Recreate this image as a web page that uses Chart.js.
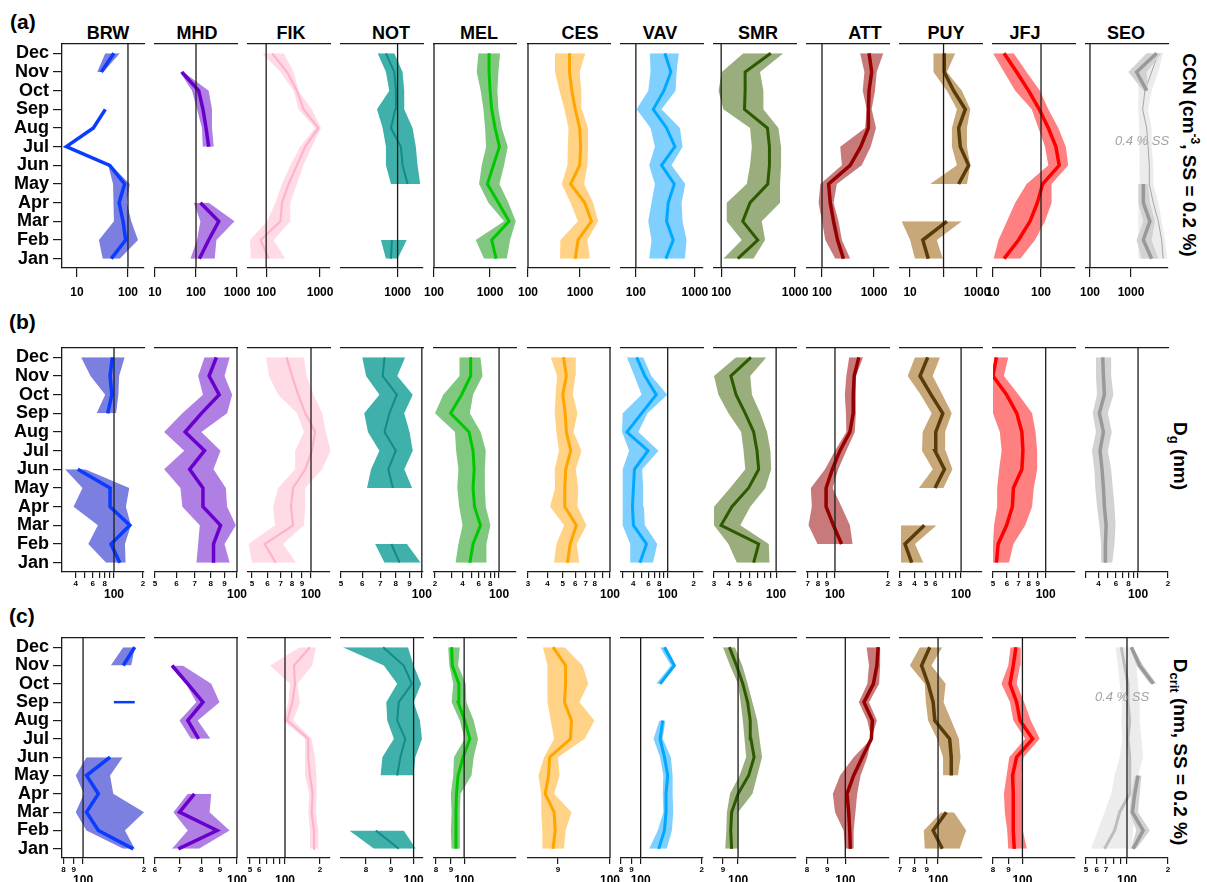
<!DOCTYPE html>
<html>
<head>
<meta charset="utf-8">
<script src="https://cdn.jsdelivr.net/npm/chart.js@4.4.0/dist/chart.umd.min.js"></script>
<style>
  body { margin: 0; width: 1207px; height: 882px; overflow: hidden; position: relative; background: #fff;
         font-family: 'Liberation Sans', Arial, sans-serif; color: #000; }
  .panel { position: absolute; }
  .tag { position: absolute; font-weight: bold; font-size: 21px; line-height: 1; }
  .stn { position: absolute; font-weight: bold; font-size: 18px; line-height: 18px; transform: translateX(-50%); white-space: nowrap; }
  .side { position: absolute; font-weight: bold; font-size: 19px; white-space: nowrap; transform: translate(-50%, -50%) rotate(90deg); }
  .side sup { font-size: 12px; }
  .side sub { font-size: 13px; }
  .ss { position: absolute; font-style: italic; font-size: 13px; color: #a3a3a3; transform: translate(-50%, -50%); white-space: nowrap; }
</style>
</head>
<body>
<div class="tag" style="left:10px;top:11px">(a)</div>
<div class="tag" style="left:9px;top:311px">(b)</div>
<div class="tag" style="left:9px;top:605px">(c)</div>
<div class="side" style="left:1190px;top:155px">CCN (cm<sup>-3</sup>, SS = 0.2 %)</div>
<div class="side" style="left:1179px;top:456px">D<sub>g</sub> (nm)</div>
<div class="side" style="left:1179px;top:752px">D<sub>crit</sub> (nm, SS = 0.2 %)</div>
<script>
Chart.defaults.font.family = "'Liberation Sans', Arial, sans-serif";
Chart.defaults.color = '#000';

const months = ['Jan', 'Feb', 'Mar', 'Apr', 'May', 'Jun', 'Jul', 'Aug', 'Sep', 'Oct', 'Nov', 'Dec'];
const stations = ['BRW', 'MHD', 'FIK', 'NOT', 'MEL', 'CES', 'VAV', 'SMR', 'ATT', 'PUY', 'JFJ', 'SEO'];
const lineColors = ['#0a3cff', '#6a00cc', '#ffb3c9', '#138c88', '#00c800', '#ffa500', '#00a8ff', '#2d5a00', '#960000', '#5a3c0a', '#ff0000', '#999999'];
const bandColors = ['#7b7fe0', '#b07fe3', '#ffdbe6', '#40b0ab', '#80c880', '#ffd285', '#80d0ff', '#99ae7c', '#c87a7a', '#c8a878', '#ff8080', '#d2d2d2'];
const lineWidths = [3.5, 3.5, 2.2, 2, 3, 3, 3, 3, 3.5, 3.5, 3.5, 3.5];
const stationX = [108, 197, 291, 391, 479, 580, 660, 758, 865, 946, 1025, 1126];

// ---- (a) CCN (cm-3, SS = 0.2 %), Jan..Dec ----
const ccnMed = {
  BRW: [47, 90, 80, 67, 86, 44, 6.2, 21, 36, null, 30, 53],
  MHD: [121, 204, 359, 128, null, null, 204, 176, 148, 116, 45, null],
  FIK: [112, 79, 184, 197, 261, 372, 530, 931, 493, 372, 244, 129],
  NOT: [787, 815, null, null, 1433, 1197, 1127, 787, 920, 942, 887, 657],
  MEL: [1280, 1070, 2184, 1409, 896, 1148, 1468, 1228, 1070, 1000, 959, 959],
  CES: [811, 914, 1663, 1233, 658, 985, 1030, 985, 811, 698, 629, 629],
  VAV: [322, 429, 331, 353, 447, 272, 458, 331, 197, 298, 392, 310],
  SMR: [168, 313, 196, 246, 427, 450, 450, 423, 207, 211, 211, 469],
  ATT: [259, 199, 167, 144, 134, 348, 556, 779, 779, 802, 902, 802],
  PUY: [35, 24, 126, null, 282, 562, 316, 282, 447, 200, 105, 105],
  JFJ: [17, 34, 59, 84, 108, 239, 204, 142, 92, 55, 31, 17],
  SEO: [3190, 2000, 2900, 2000, 2000, null, null, null, null, 2410, 1370, 4230]
};
const ccnLo = {
  BRW: [32, 27, 53, 53, 51, 41, null, null, null, null, 25, 36],
  MHD: [73, 106, 128, 88, null, null, 146, 140, 106, 80, 41, null],
  FIK: [52, 50, 104, 148, 197, 280, 428, 808, 398, 323, 184, 84],
  NOT: [657, 549, null, null, 787, 657, 657, 583, 476, 741, 657, 487],
  MEL: [781, 555, 1778, 933, 636, 710, 849, 814, 760, 681, 578, 619],
  CES: [414, 420, 914, 658, 446, 574, 584, 601, 503, 402, 331, 331],
  VAV: [168, 184, 162, 184, 210, 168, 210, 177, 103, 162, 177, 173],
  SMR: [107, 190, 119, 119, 222, 246, 260, 246, 107, 92, 102, 200],
  ATT: [180, 116, 100, 86, 93, 241, 224, 673, 724, 607, 653, 540],
  PUY: [14, 10, 5.6, null, 40, 251, 178, 178, 251, 126, 50, 50],
  JFJ: [10.3, 13, 19.5, 29, 50, 142, 121, 88, 64, 29, 17, 10],
  SEO: [1820, 1370, 2000, 1510, 1510, null, null, null, null, 2000, 861, 2410]
};
const ccnHi = {
  BRW: [69, 157, 116, 95, 108, 47, null, null, null, null, 33, 69],
  MHD: [286, 315, 868, 204, null, null, 271, 246, 246, 204, 49, null],
  FIK: [227, 138, 280, 280, 372, 493, 703, 1040, 703, 398, 323, 212],
  NOT: [1000, 1390, null, null, 2260, 2054, 1933, 1715, 1271, 1271, 1197, 887],
  MEL: [1985, 2276, 2871, 2125, 1468, 1778, 2067, 1616, 1409, 1352, 1409, 1509],
  CES: [1540, 1390, 2240, 1790, 1200, 1390, 1430, 1430, 1090, 1060, 985, 1270],
  VAV: [677, 722, 618, 594, 686, 402, 618, 557, 272, 470, 489, 535],
  SMR: [273, 393, 354, 627, 627, 647, 647, 595, 373, 373, 336, 695],
  ATT: [348, 241, 208, 167, 193, 581, 863, 1092, 902, 1045, 1125, 1508],
  PUY: [95, 63, 355, null, 501, 631, 501, 501, 631, 355, 126, 224],
  JFJ: [37, 75, 121, 166, 166, 368, 329, 229, 142, 95, 50, 27],
  SEO: [4640, 3190, 3850, 2900, 2620, null, null, null, null, 2620, 2410, 5600]
};
// SEO at 0.4 % SS
const ccnSeo04Med = [6100, 5600, 4640, 3500, 2800, 2800, 2620, 2410, 1930, 2190, 3190, 4640];
const ccnSeo04Lo = [1510, 1510, 1510, 1510, 1650, 1650, 1590, 1590, 1510, 1510, 1510, 2410];
const ccnSeo04Hi = [7700, 6700, 5600, 4640, 3500, 3500, 3190, 3190, 2620, 3190, 4640, 6100];
const ccnRange = {
  BRW: [5.1, 206], MHD: [10, 1000], FIK: [46, 1530], NOT: [130, 2500], MEL: [100, 2900], CES: [100, 3780],
  VAV: [56, 1370], SMR: [80, 1030], ATT: [51.5, 1940], PUY: [5, 1410], JFJ: [10, 510], SEO: [80, 8000]
};
const ccnRef = { BRW: 100, MHD: 100, FIK: 100, NOT: 1000, MEL: 100, CES: 100, VAV: 100, SMR: 100, ATT: 100, PUY: 100, JFJ: 100, SEO: 100 };
const ccnTicks = {
  BRW: [10, 100], MHD: [10, 100, 1000], FIK: [100, 1000], NOT: [1000], MEL: [100, 1000], CES: [100, 1000],
  VAV: [100, 1000], SMR: [100, 1000], ATT: [100, 1000], PUY: [10, 100, 1000], JFJ: [10, 100], SEO: [100, 1000]
};
const ccnLabels = {
  BRW: ['10', '100'], MHD: ['10', '100', '1000'], FIK: ['100', '1000'], NOT: ['1000'], MEL: ['100', '1000'], CES: ['100', '1000'],
  VAV: ['100', '1000'], SMR: ['100', '1000'], ATT: ['100', '1000'], PUY: ['10', '', '1000'], JFJ: ['10', '100'], SEO: ['100', '1000']
};

// ---- (b) Dg (nm), Jan..Dec ----
const dgMed = {
  BRW: [115, 93, 146, 91, 91, 42, null, null, 86, 95, 91, 96],
  MHD: [82, 82, 87, 75, 75, 67, 76, 64.5, 74, 86, 79, 84],
  FIK: [66, 58, 81, 79, 81, 93.5, 101, 105, 93.5, 86, 80, 75],
  NOT: [82.6, 77, null, null, 78, 75, 80, 72.6, 75.7, 80.7, 71.5, 72.6],
  MEL: [48, 52, 62.7, 54, 52, 53.5, 52, 47, 29.6, 39, 49, 49],
  CES: [53.5, 55.7, 61, 51.5, 51.5, 52.2, 56.2, 52.7, 51.8, 50, 52.7, 50.5],
  VAV: [47.9, 57, 40.3, 39.3, 40.3, 41.4, 59.4, 33.9, 50, 73.8, 54.6, 44],
  SMR: [64.7, 71.3, 34.4, 42.4, 58.7, 71.3, 69, 64.7, 55, 46, 41.6, 61.4],
  ATT: [null, 109, 98, 89, 89, 96.6, 106.7, 121.6, 127, 127, 128.6, 136.7],
  PUY: [37.8, 33.1, 48.5, null, 59.8, 72, 59.8, 60.7, 69.7, 55.3, 44.5, 51.8],
  JFJ: [52.3, 53.5, 59.8, 64.5, 65.4, 73.1, 74.1, 73.1, 68.4, 59.8, 50, 52.3],
  SEO: [47, 47, 47.8, 45.9, 44.9, 43.5, 41.5, 44.9, 40.9, 45.9, 44.9, 44.2]
};
const dgLo = {
  BRW: [83, 54, 68, 38, 47, 31, null, null, 66, 81, 57, 45.5],
  MHD: [71, 72, 73, 63, 62, 54, 64, 54, 63, 75, 72, 76],
  FIK: [50, 48, 65.5, 64, 68, 83, 83, 92, 85, 68, 61, 59],
  NOT: [72.6, 67, null, null, 62.5, 64.7, 69.5, 63, 61, 69.5, 62, 60],
  MEL: [33.5, 36, 40, 36.7, 35, 36, 34, 33, 20, 24.6, 37, 37],
  CES: [44, 45.5, 51, 41.5, 44.6, 44.4, 47.3, 45.5, 44.4, 45, 46, 41.9],
  VAV: [37, 37, 30.3, 30.3, 30.3, 30.3, 36, 29.8, 30.3, 50, 41.4, 33.9],
  SMR: [46.7, 39.7, 30, 30, 41, 55, 53.2, 50.8, 39.7, 32.7, 30, 46],
  ATT: [null, 79.5, 70.7, 73.8, 72.9, 87.8, 100, 116, 115.4, 113.8, 116, 120.5],
  PUY: [30.6, 30.6, 30.6, null, 43.6, 57.2, 46.3, 46.9, 56, 45.1, 34.9, 40.3],
  JFJ: [50, 50, 50.7, 52.8, 52.8, 54.2, 56, 54.7, 50, 50, 50, 50.7],
  SEO: [42.5, 42.5, 40.9, 38.7, 37.2, 36.4, 34.4, 37.8, 35, 38.7, 37.8, 37.8]
};
const dgHi = {
  BRW: [132, 130, 150, 133, 144, 50, null, null, 105, 111, 113, 129],
  MHD: [94, 90, 99, 92, 91, 82, 87, 74, 92, 96, 90, 94],
  FIK: [84, 72, 92, 93.5, 93.5, 114, 126, 119, 114, 103, 95, 92],
  NOT: [99, 88, null, null, 92, 86, 92.5, 90, 86, 92.5, 81, 86.7],
  MEL: [72.8, 72.8, 80.5, 71.6, 70, 70, 71.6, 63, 48, 52, 66, 62.7],
  CES: [63.6, 61.4, 70.8, 62, 62.7, 60.5, 65.8, 58.5, 62, 58, 60, 60.5],
  VAV: [67.7, 75.8, 54.6, 53.2, 52.2, 50.9, 78.5, 45.9, 58.5, 99, 64.9, 52.2],
  SMR: [87.9, 86.7, 49.9, 60.6, 81.3, 90.8, 89.5, 83.9, 73.6, 62.6, 60.6, 82.8],
  ATT: [null, 125.9, 121.6, 109, 97, 104.4, 116, 129.7, 131.5, 131.5, 131.5, 144.6],
  PUY: [47.5, 40.3, 61.8, null, 70.6, 84.3, 73.9, 73, 83.2, 69.2, 57.2, 66],
  JFJ: [61.7, 65.4, 76.4, 83.6, 85.5, 89.4, 89.4, 87.5, 83.6, 70, 57.7, 61.1],
  SEO: [55, 58, 59.4, 58, 55.8, 53.7, 49.7, 54.5, 49.7, 56.6, 53.7, 53.7]
};
const dgRange = {
  BRW: [28.8, 205], MHD: [50, 100], FIK: [47.7, 125], NOT: [50, 101], MEL: [19.5, 153], CES: [30, 100],
  VAV: [29, 255], SMR: [30, 147], ATT: [69.3, 203], PUY: [30, 151], JFJ: [50, 147], SEO: [30, 200]
};
const dgRef = { BRW: 100, MHD: 100, FIK: 100, NOT: 100, MEL: 100, CES: 100, VAV: 100, SMR: 100, ATT: 100, PUY: 100, JFJ: 100, SEO: 100 };
const dgTicks = {
  BRW: [40, 50, 60, 70, 80, 90, 100, 200], MHD: [50, 60, 70, 80, 90, 100], FIK: [50, 60, 70, 80, 90, 100],
  NOT: [50, 60, 70, 80, 90, 100], MEL: [20, 30, 40, 50, 60, 70, 80, 90, 100], CES: [30, 40, 50, 60, 70, 80, 90, 100],
  VAV: [30, 40, 50, 60, 70, 80, 90, 100, 200], SMR: [30, 40, 50, 60, 70, 80, 90, 100], ATT: [70, 80, 90, 100, 200],
  PUY: [30, 40, 50, 60, 70, 80, 90, 100], JFJ: [50, 60, 70, 80, 90, 100], SEO: [30, 40, 50, 60, 70, 80, 90, 100, 200]
};
const dgLabels = {
  BRW: ['4', '', '6', '', '8', '', '100', '2'], MHD: ['5', '6', '7', '8', '9', '100'], FIK: ['5', '6', '7', '8', '9', '100'],
  NOT: ['5', '6', '7', '8', '9', '100'], MEL: ['2', '', '4', '', '6', '', '8', '', '100'], CES: ['3', '4', '5', '6', '7', '8', '', '100'],
  VAV: ['', '4', '', '6', '', '8', '', '100', '2'], SMR: ['3', '4', '5', '6', '', '', '', '100'], ATT: ['7', '8', '9', '100', '2'],
  PUY: ['3', '4', '5', '6', '', '', '', '100'], JFJ: ['5', '6', '7', '8', '9', '100'], SEO: ['', '4', '', '6', '', '8', '', '100', '2']
};

// ---- (c) Dcrit (nm, SS = 0.2 %), Jan..Dec ----
const dcMed = {
  BRW: [177, 119, 104, 119, 104, 136, null, null, 161, null, 158, 180],
  MHD: [69.4, 88.3, 69.9, 76.7, null, null, 78.7, 73.6, 80.9, 73.6, 66.7, null],
  FIK: [175, 177.6, 169.5, 173, 164, 158.6, 158.6, 104.7, 115.6, 122, 119.5, 164],
  NOT: [93.3, 83.8, null, null, 92.6, 94, 96.2, 92.6, 93.3, 99.2, 95.5, 86.7],
  MEL: [93.7, 93.7, 93.7, 94.1, 95.3, 99.2, 104.6, 100.5, 95.3, 95.9, 91, 90.5],
  CES: [89.1, 89.5, 89.3, 87.7, 88.3, 88.5, 92.3, 92.5, 91.2, 91.4, 91.4, 89.1],
  VAV: [122.8, 131, 133.4, 133.4, 136, 131, 124.7, 128.5, null, 124.7, 146.5, 131],
  SMR: [95.6, 95, 95.6, 100, 107.7, 111.9, 109.4, 108.9, 106.9, 103.4, 98.9, 94.1],
  ATT: [103, 102.6, 102, 101, 105, 110.4, 116.4, 117.1, 111.5, 117.8, 120.2, 121.1],
  PUY: [104.1, 95.5, 108, null, 113.2, 113.2, 111.5, 97, 95.5, 91.1, 85.7, 92.5],
  JFJ: [94, 93.3, 93.3, 93.3, 92.8, 95.7, 108, 98.2, 95.7, 91, 93.3, 95.2],
  SEO: [110.8, 131.4, 109.5, 114, 120.6, null, null, null, null, 156, 124, 107.7]
};
const dcLo = {
  BRW: [158, 104, 92, 101, 92, 104, null, null, 142, null, 137, 158],
  MHD: [66.7, 73.6, 67.3, 73.6, null, null, 75.1, 69.9, 77.6, 72.8, 66.3, null],
  FIK: [164, 164, 158.6, 161.8, 148.6, 148.6, 148.6, 96.8, 106.8, 110.4, 74.3, 134.6],
  NOT: [83.1, 74, null, null, 85.7, 86.4, 91.2, 88.4, 88, 92.6, 87, 71.8],
  MEL: [90.5, 90, 90.5, 90, 91.7, 92.2, 100.5, 96.6, 90.5, 91.7, 88.9, 88.1],
  CES: [87.2, 87.2, 87, 87, 86.5, 87.5, 89.3, 88.7, 88.1, 88.1, 88.1, 87.3],
  VAV: [110, 121.5, 129.4, 128.5, 129.4, 124.7, 115.7, 123.8, null, 119.2, 141, 124.7],
  SMR: [91.4, 92.1, 92.5, 94.5, 101.1, 105.8, 104.6, 103.4, 101.8, 100, 94.5, 90],
  ATT: [100, 99, 94.2, 93, 97, 105, 116.4, 113.7, 108.2, 113.7, 114.8, 113.2],
  PUY: [88.3, 87.5, 103.1, null, 104.8, 104.8, 99.1, 91.1, 89.2, 88.3, 76.8, 84.3],
  JFJ: [89.8, 89.1, 87.5, 86.9, 88.7, 90.5, 102.1, 93.3, 91, 85.3, 89.8, 91.4],
  SEO: [106.5, 117.2, 104.7, 107.7, 114, null, null, null, null, 147, 117.2, 104.7]
};
const dcHi = {
  BRW: [180, 161, 200, 141, 136, 157, null, null, 180, null, 173, 180],
  MHD: [78.9, 95.5, 84.3, 85.2, null, null, 84.7, 78.3, 89.7, 85.2, 71.3, null],
  FIK: [193.5, 193.5, 184.7, 187, 187, 181, 169.5, 118, 134.6, 127.6, 171.8, 184.7],
  NOT: [101, 95.5, null, null, 100, 100.8, 104, 103, 100, 103.6, 100, 97.4],
  MEL: [96.1, 96.6, 96.6, 97.2, 106, 107.9, 111.7, 107.9, 101.8, 101.3, 95.3, 96.6],
  CES: [91.1, 91.4, 92.5, 89.3, 90.3, 90, 95, 96.9, 94, 95.7, 94.6, 91.2],
  VAV: [134.4, 142.6, 144.9, 143.8, 143.8, 141, 128.5, 132.4, null, 127.6, 149.3, 134.4],
  SMR: [100, 100, 100, 110.6, 114.4, 118.3, 116.2, 114.4, 110.6, 106.9, 103, 97.8],
  ATT: [104.6, 105, 106.1, 107.2, 109.3, 113.7, 116.4, 120.2, 114.8, 121.8, 122.5, 122.5],
  PUY: [122.4, 130.2, 116.1, null, 120.5, 123.5, 121.6, 113.2, 105.4, 107.4, 94, 104.1],
  JFJ: [103.4, 100.3, 100.3, 100.3, 99.5, 100.8, 114, 106.6, 101.3, 95.7, 98.2, 98.7],
  SEO: [117.2, 147, 120.6, 124, 127.7, null, null, null, null, 165, 131.4, 110.8]
};
// SEO at 0.4 % SS
const dcSeo04Med = [68.4, 81.1, 88.3, 104.7, 104.7, 104.7, 101.7, 104.7, 101.7, 101.7, 96, 90.8];
const dcSeo04Lo = [54.4, 61, 68.4, 76.6, 81.1, 88.3, 92.3, 90.8, 92.3, 88.3, 85.7, 82.4];
const dcSeo04Hi = [107.7, 110.8, 114, 114, 120.6, 131.4, 127.7, 124, 124, 120.6, 117.2, 110.8];
const dcRange = {
  BRW: [78.7, 200], MHD: [60, 100], FIK: [48, 244], NOT: [71.2, 104.5], MEL: [78.7, 151], CES: [84.7, 100],
  VAV: [80, 203], SMR: [84.5, 150], ATT: [80, 129], PUY: [70, 151], JFJ: [80, 149], SEO: [50, 200]
};
const dcRef = dgRef;
const dcTicks = {
  BRW: [80, 90, 100, 200], MHD: [60, 70, 80, 90, 100], FIK: [50, 60, 70, 80, 90, 100, 200], NOT: [80, 90, 100],
  MEL: [80, 90, 100], CES: [90, 100], VAV: [80, 90, 100, 200], SMR: [90, 100], ATT: [80, 90, 100],
  PUY: [70, 80, 90, 100], JFJ: [80, 90, 100], SEO: [50, 60, 70, 80, 90, 100, 200]
};
const dcLabels = {
  BRW: ['8', '9', '100', '2'], MHD: ['6', '7', '8', '9', '100'], FIK: ['5', '6', '', '', '', '100', '2'], NOT: ['8', '9', '100'],
  MEL: ['8', '9', '100'], CES: ['9', '100'], VAV: ['8', '9', '100', '2'], SMR: ['9', '100'], ATT: ['8', '9', '100'],
  PUY: ['7', '8', '9', '100'], JFJ: ['8', '9', '100'], SEO: ['5', '6', '7', '', '', '100', '2']
};

const rows = [
  { top: 44, bottom: 268, axisH: 40, med: ccnMed, lo: ccnLo, hi: ccnHi, range: ccnRange, ref: ccnRef,
    ticks: ccnTicks, labels: ccnLabels, small: false,
    seo: { med: ccnSeo04Med, lo: ccnSeo04Lo, hi: ccnSeo04Hi, color: '#a6a6a6', width: 1 } },
  { top: 348, bottom: 572, axisH: 40, med: dgMed, lo: dgLo, hi: dgHi, range: dgRange, ref: dgRef,
    ticks: dgTicks, labels: dgLabels, small: true, seo: null },
  { top: 638, bottom: 858, axisH: 24, med: dcMed, lo: dcLo, hi: dcHi, range: dcRange, ref: dcRef,
    ticks: dcTicks, labels: dcLabels, small: true,
    seo: { med: dcSeo04Med, lo: dcSeo04Lo, hi: dcSeo04Hi, color: '#bdbdbd', width: 3 } }
];

function pts(arr) {
  return arr.map((v, i) => ({ x: v, y: i + 1 }));
}

// months whose band has no neighbour on either side get drawn as a short bar
function isolated(lo, hi) {
  const out = [];
  lo.forEach((v, i) => {
    if (v == null) return;
    const prev = i > 0 ? lo[i - 1] : null;
    const next = i < 11 ? lo[i + 1] : null;
    if (prev == null && next == null) out.push([{ x: v, y: i + 1 }, { x: hi[i], y: i + 1 }]);
  });
  return out;
}

// station names
stationX.forEach((x, k) => {
  const d = document.createElement('div');
  d.className = 'stn';
  d.style.left = x + 'px';
  d.style.top = '24px';
  d.textContent = stations[k];
  document.body.appendChild(d);
});

const axisCol = '#1a1a1a';

rows.forEach(row => {
  stations.forEach((s, k) => {
    const L = Math.round(62 + k * 93.1);
    const first = k === 0;
    const padL = first ? 0 : 22, padR = 22, padT = 4;
    const H = row.bottom - row.top;
    const w = (first ? L : padL) + 82 + padR;
    const h = padT + H + row.axisH;

    const box = document.createElement('div');
    box.className = 'panel';
    box.style.left = (first ? 0 : L - padL) + 'px';
    box.style.top = (row.top - padT) + 'px';
    const cv = document.createElement('canvas');
    cv.width = w; cv.height = h;
    cv.style.width = w + 'px'; cv.style.height = h + 'px';
    box.appendChild(cv);
    document.body.appendChild(box);

    const datasets = [
      { data: [{ x: row.ref[s], y: 0.5 }, { x: row.ref[s], y: 12.5 }], borderColor: axisCol, borderWidth: 1.3, clip: 4 },
      { data: pts(row.med[s]), borderColor: lineColors[k], borderWidth: lineWidths[k] }
    ];
    isolated(row.lo[s], row.hi[s]).forEach(seg => {
      datasets.push({ data: seg, borderColor: lineColors[k], borderWidth: 2.5 });
    });
    datasets.push({ data: pts(row.lo[s]), borderWidth: 0, borderColor: 'rgba(0,0,0,0)' });
    datasets.push({ data: pts(row.hi[s]), borderWidth: 0, borderColor: 'rgba(0,0,0,0)', fill: '-1', backgroundColor: bandColors[k] });
    if (s === 'SEO' && row.seo) {
      datasets.push({ data: pts(row.seo.med), borderColor: row.seo.color, borderWidth: row.seo.width });
      datasets.push({ data: pts(row.seo.lo), borderWidth: 0, borderColor: 'rgba(0,0,0,0)' });
      datasets.push({ data: pts(row.seo.hi), borderWidth: 0, borderColor: 'rgba(0,0,0,0)', fill: '-1', backgroundColor: '#ececec' });
    }
    datasets.forEach(d => { d.xAxisID = 'x'; d.yAxisID = 'y'; });

    const tickFont = row.small
      ? (c) => (c.tick && c.tick.value === 100) ? { size: 12, weight: 'bold', lineHeight: 0.875 } : { size: 8, weight: 'bold' }
      : { size: 12, weight: 'bold' };

    new Chart(cv, {
      type: 'line',
      data: { datasets },
      options: {
        indexAxis: 'y',
        responsive: false,
        animation: false,
        events: [],
        layout: { autoPadding: false, padding: { left: padL, right: padR, top: padT, bottom: 0 } },
        plugins: { legend: { display: false }, tooltip: { enabled: false } },
        datasets: { line: { pointRadius: 0, tension: 0, spanGaps: false } },
        scales: {
          x: {
            type: 'logarithmic',
            position: 'bottom',
            min: row.range[s][0],
            max: row.range[s][1],
            afterBuildTicks: sc => { sc.ticks = row.ticks[s].map(v => ({ value: v })); },
            afterFit: sc => { sc.height = row.axisH; sc.paddingLeft = 0; sc.paddingRight = 0; },
            grid: { drawOnChartArea: false, drawTicks: true, tickLength: row.small ? 6 : 9, color: axisCol, lineWidth: 1.2 },
            border: { display: true, color: axisCol, width: 1.3 },
            ticks: {
              autoSkip: false, maxRotation: 0, minRotation: 0,
              padding: row.small ? 1 : 8,
              color: '#000',
              font: tickFont,
              callback: (v, i) => {
                const t = row.labels[s][i];
                return (row.small && v === 100) ? ['', t] : t;
              }
            }
          },
          xt: {
            type: 'linear',
            position: 'top',
            min: 0, max: 1,
            afterFit: sc => { sc.height = 0; sc.paddingLeft = 0; sc.paddingRight = 0; },
            grid: { display: false, drawTicks: false },
            ticks: { display: false },
            border: { display: true, color: axisCol, width: 1.3 }
          },
          y: {
            type: 'linear',
            display: first,
            min: 0.5, max: 12.5,
            afterBuildTicks: sc => { sc.ticks = months.map((m, i) => ({ value: i + 1 })); },
            afterFit: sc => { sc.width = first ? L : 0; sc.paddingTop = 0; sc.paddingBottom = 0; },
            grid: { drawOnChartArea: false, drawTicks: true, tickLength: 9, color: axisCol, lineWidth: 1.2 },
            border: { display: true, color: axisCol, width: 1.3 },
            ticks: {
              autoSkip: false, padding: 4, color: '#000',
              font: { size: 18, weight: 'bold' },
              callback: v => months[v - 1]
            }
          }
        }
      }
    });
  });
});

// SEO 0.4 % SS notes, drawn last so they sit over the panels
[[1142, 140], [1122, 696]].forEach(([x, y]) => {
  const d = document.createElement('div');
  d.className = 'ss';
  d.style.left = x + 'px';
  d.style.top = y + 'px';
  d.textContent = '0.4 % SS';
  document.body.appendChild(d);
});
</script>
</body>
</html>
